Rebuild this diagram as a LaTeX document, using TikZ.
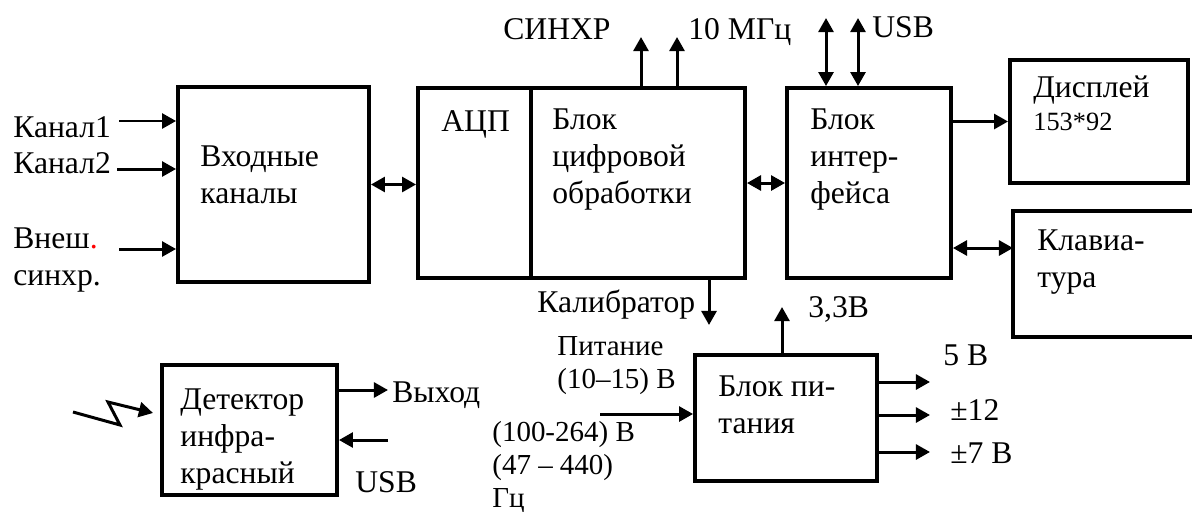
\documentclass[tikz,border=0pt]{standalone}
\usepackage{fontspec}
\setmainfont{Liberation Serif}
\usetikzlibrary{arrows.meta,fit}

\tikzset{
  blk/.style={draw, line width=2.2pt, inner sep=0pt},
  txt/.style={inner sep=0pt, anchor=base west, align=left},
  smalltxt/.style={txt, font=\fontsize{16.5}{18.6}\selectfont},
  sig/.style={line width=1.7pt, -{Triangle[length=8pt,width=8.5pt]}},
  bid/.style={line width=1.7pt, {Triangle[length=8pt,width=8.5pt]}-{Triangle[length=8pt,width=8.5pt]}},
}

\begin{document}
\begin{tikzpicture}[x=0.02cm, y=-0.02cm, font=\fontsize{18}{20.8}\selectfont]
\useasboundingbox (0,0) rectangle (1192,511);

% blocks
\node[blk, fit={(178,87) (369,282)}] (inp) {};
\node[blk, fit={(418,88) (745,278)}] (dsp) {};
\node[blk, fit={(787,88) (951,278)}] (ifc) {};
\node[blk, fit={(1010,60) (1188,183)}] (disp) {};
\node[blk, fit={(1013,211) (1210,337)}] (kbd) {};
\node[blk, fit={(695,355) (877,481)}] (pwr) {};
\node[blk, fit={(162,365) (337,495)}] (det) {};
\coordinate (adc) at (531,0);
\draw[line width=2.2pt] (adc |- dsp.north) -- (adc |- dsp.south);

% texts in blocks (base = last line)
\node[txt] (tinp) at (200,203) {Входные\\каналы};
\node[txt] (tadc) at (441,131) {АЦП};
\node[txt] (tdsp) at (552,203) {Блок\\цифровой\\обработки};
\node[txt] (tifc) at (810,203) {Блок\\интер-\\фейса};
\node[txt] (tdisp) at (1033,97) {Дисплей};
\node[txt, font=\fontsize{15}{18}\selectfont] (tres) at (1033,130) {153*92};
\node[txt] (tkbd) at (1037,287) {Клавиа-\\тура};
\node[txt] (tpwr) at (718,433) {Блок пи-\\тания};
\node[txt] (tdet) at (180,483) {Детектор\\инфра-\\красный};

% inputs
\node[txt] (tk1) at (13,137) {Канал1};
\node[txt] (tk2) at (13,173) {Канал2};
\node[txt] (text) at (13,285) {Внеш\textcolor{red}{.}\\синхр.};
\coordinate (k1) at (119,121);
\coordinate (k2) at (117,169);
\coordinate (ext) at (119,249);
\foreach \c in {k1,k2,ext}
  \draw[sig] (\c) -- (\c -| inp.west);

% links between blocks
\draw[bid] (inp.east) -- (inp.east -| dsp.west);
\draw[bid] (dsp.east) -- (ifc.west);
\draw[sig] (disp.west -| ifc.east) -- (disp.west);
\coordinate (kb) at (1013,248);
\draw[bid] (kb -| ifc.east) -- (kb);

% top outputs
\node[txt] (tsyn) at (503,39) {СИНХР};
\node[txt] (tclk) at (688,39) {10 МГц};
\node[txt] (tusb) at (872,37) {USB};
\coordinate (syn) at (641,37);
\coordinate (clk) at (677,37);
\draw[sig] (syn |- dsp.north) -- (syn);
\draw[sig] (clk |- dsp.north) -- (clk);
\coordinate (usba) at (826,18);
\coordinate (usbb) at (858,18);
\draw[bid] (usba |- ifc.north) -- (usba);
\draw[bid] (usbb |- ifc.north) -- (usbb);

% calibrator and power
\node[txt] (tcal) at (537,312) {Калибратор};
\coordinate (cal) at (709,325);
\draw[sig] (cal |- dsp.south) -- (cal);
\node[txt] (t33) at (808,317) {3,3В};
\coordinate (v33) at (782,307);
\draw[sig] (v33 |- pwr.north) -- (v33);
\node[smalltxt] (tbat) at (557,388) {Питание\\(10–15) В};
\node[smalltxt] (tac) at (492,507) {(100-264) В\\(47 – 440)\\Гц};
\coordinate (ac) at (600,414);
\draw[sig] (ac) -- (ac -| pwr.west);
\foreach \y [count=\i] in {382,415,452} {
  \coordinate (o\i) at (930,\y);
  \draw[sig] (o\i -| pwr.east) -- (o\i);
}
\node[txt] (t5) at (943,365) {5 В};
\node[txt] (t12) at (950,420) {±12};
\node[txt] (t7) at (950,463) {±7 В};

% infrared detector
\coordinate (ir) at (153,413);
\draw[sig] (73,412) -- (120,425) -- (108,402) -- (ir);
\coordinate (out) at (388,390);
\draw[sig] (out -| det.east) -- (out);
\node[txt] (tout) at (392,402) {Выход};
\coordinate (usbin) at (388,440);
\draw[sig] (usbin) -- (usbin -| det.east);
\node[txt] (tusbin) at (355,492) {USB};
\end{tikzpicture}
\end{document}
